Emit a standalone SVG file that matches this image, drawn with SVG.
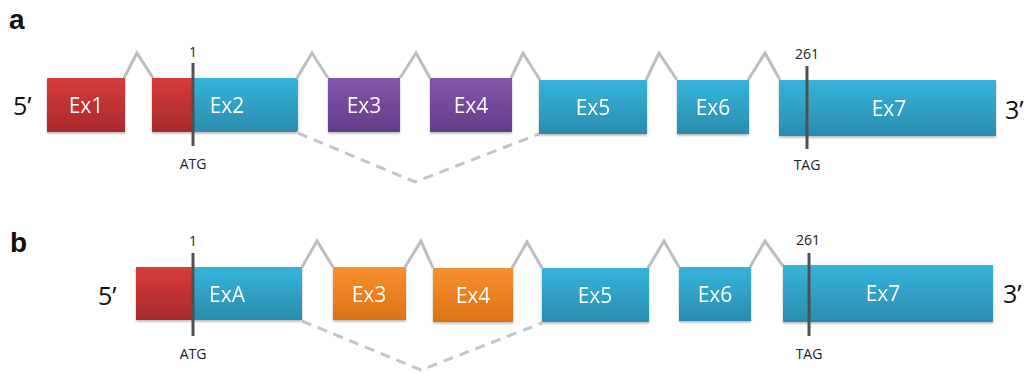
<svg xmlns="http://www.w3.org/2000/svg" width="1029" height="374" viewBox="0 0 1029 374">
<defs>
<linearGradient id="gRed" x1="0" y1="0" x2="0" y2="1"><stop offset="0" stop-color="#d63b3b"/><stop offset="1" stop-color="#a82a2c"/></linearGradient>
<linearGradient id="gBlue" x1="0" y1="0" x2="0" y2="1"><stop offset="0" stop-color="#36b4da"/><stop offset="1" stop-color="#2a8cae"/></linearGradient>
<linearGradient id="gPurple" x1="0" y1="0" x2="0" y2="1"><stop offset="0" stop-color="#8357aa"/><stop offset="1" stop-color="#613d88"/></linearGradient>
<linearGradient id="gOrange" x1="0" y1="0" x2="0" y2="1"><stop offset="0" stop-color="#f9902f"/><stop offset="1" stop-color="#dd7217"/></linearGradient>
<filter id="sh" x="-10%" y="-10%" width="120%" height="130%"><feDropShadow dx="0" dy="1.5" stdDeviation="1.2" flood-color="#000" flood-opacity="0.3"/></filter>
</defs>
<style>
.ex{filter:url(#sh)}
.lbl{font-family:"Open Sans","Noto Sans",sans-serif;font-size:21px;fill:#fff;text-anchor:middle}
.sm{font-family:"Open Sans","Noto Sans",sans-serif;font-size:14px;fill:#222;text-anchor:middle}
.end{font-family:"Open Sans","Noto Sans",sans-serif;font-size:25px;fill:#111}
.pl{font-family:"Liberation Sans",Arial,sans-serif;font-size:28px;font-weight:bold;fill:#111}
.intr{fill:none;stroke:#bdbdbd;stroke-width:3;stroke-linejoin:miter}
.skip{fill:none;stroke:#c4c4c4;stroke-width:3;stroke-dasharray:10,7}
.mk{stroke:#505050;stroke-width:3}
</style>
<rect width="1029" height="374" fill="#fff"/>

<!-- Panel a -->
<text class="pl" x="9" y="29">a</text>
<text class="end" x="13" y="115">5’</text>
<text class="end" x="1005" y="119">3’</text>
<g id="connectors-a">
<polyline class="intr" points="124,78 137,53 153,78"/>
<polyline class="intr" points="297,78 312,53 328,78"/>
<polyline class="intr" points="400,78 416,53 430,78"/>
<polyline class="intr" points="511,78 523,53 540,80"/>
<polyline class="intr" points="646,80 659,53 677,80"/>
<polyline class="intr" points="748,80 765,53 780,80"/>
<polyline class="skip" points="298,133 415,182 539,134"/>
</g>
<g id="a-ex1" class="ex"><rect x="47" y="78" width="78" height="54" fill="url(#gRed)"/><text class="lbl" x="86" y="113">Ex1</text></g>
<g id="a-ex2" class="ex"><rect x="152" y="78" width="42" height="54" fill="url(#gRed)"/><path d="M193,78 H296 Q298,78 298,80 V130 Q298,132 296,132 H193 Z" fill="url(#gBlue)"/><text class="lbl" x="227" y="113">Ex2</text></g>
<g id="a-ex3" class="ex"><rect x="328" y="78" width="72" height="54" fill="url(#gPurple)"/><text class="lbl" x="364" y="113">Ex3</text></g>
<g id="a-ex4" class="ex"><rect x="430" y="78" width="82" height="54" fill="url(#gPurple)"/><text class="lbl" x="471" y="113">Ex4</text></g>
<g id="a-ex5" class="ex"><rect x="539" y="80" width="108" height="54" fill="url(#gBlue)"/><text class="lbl" x="593" y="115">Ex5</text></g>
<g id="a-ex6" class="ex"><rect x="677" y="80" width="72" height="54" fill="url(#gBlue)"/><text class="lbl" x="713" y="115">Ex6</text></g>
<g id="a-ex7" class="ex"><rect x="779" y="80" width="217" height="56" fill="url(#gBlue)"/><text class="lbl" x="889" y="116">Ex7</text></g>
<g id="a-atg"><line class="mk" x1="193" y1="63" x2="193" y2="146"/><text class="sm" x="193" y="57">1</text><text class="sm" x="193" y="169">ATG</text></g>
<g id="a-tag"><line class="mk" x1="807" y1="66" x2="807" y2="149"/><text class="sm" x="807" y="59">261</text><text class="sm" x="807" y="170">TAG</text></g>

<!-- Panel b -->
<text class="pl" x="10" y="252">b</text>
<text class="end" x="98" y="305">5’</text>
<text class="end" x="1003" y="303">3’</text>
<g id="connectors-b">
<polyline class="intr" points="302,267 317,241 333,267"/>
<polyline class="intr" points="405,267 421,241 433,268"/>
<polyline class="intr" points="512,268 527,242 542,268"/>
<polyline class="intr" points="648,268 664,241 679,267"/>
<polyline class="intr" points="750,267 765,241 783,266"/>
<polyline class="skip" points="302,321 421,370 542,323"/>
</g>
<g id="b-exA" class="ex"><rect x="136" y="267" width="58" height="53" fill="url(#gRed)"/><rect x="193" y="267" width="109" height="53" fill="url(#gBlue)"/><text class="lbl" x="227" y="302">ExA</text></g>
<g id="b-ex3" class="ex"><rect x="333" y="267" width="73" height="53" fill="url(#gOrange)"/><text class="lbl" x="369" y="302">Ex3</text></g>
<g id="b-ex4" class="ex"><rect x="433" y="268" width="80" height="54" fill="url(#gOrange)"/><text class="lbl" x="473" y="303">Ex4</text></g>
<g id="b-ex5" class="ex"><rect x="542" y="268" width="107" height="54" fill="url(#gBlue)"/><text class="lbl" x="595" y="303">Ex5</text></g>
<g id="b-ex6" class="ex"><rect x="679" y="267" width="72" height="54" fill="url(#gBlue)"/><text class="lbl" x="715" y="302">Ex6</text></g>
<g id="b-ex7" class="ex"><rect x="783" y="265" width="210" height="57" fill="url(#gBlue)"/><text class="lbl" x="883" y="301">Ex7</text></g>
<g id="b-atg"><line class="mk" x1="193" y1="253" x2="193" y2="336"/><text class="sm" x="193" y="246">1</text><text class="sm" x="193" y="359">ATG</text></g>
<g id="b-tag"><line class="mk" x1="809" y1="253" x2="809" y2="336"/><text class="sm" x="808" y="245">261</text><text class="sm" x="809" y="359">TAG</text></g>
</svg>
